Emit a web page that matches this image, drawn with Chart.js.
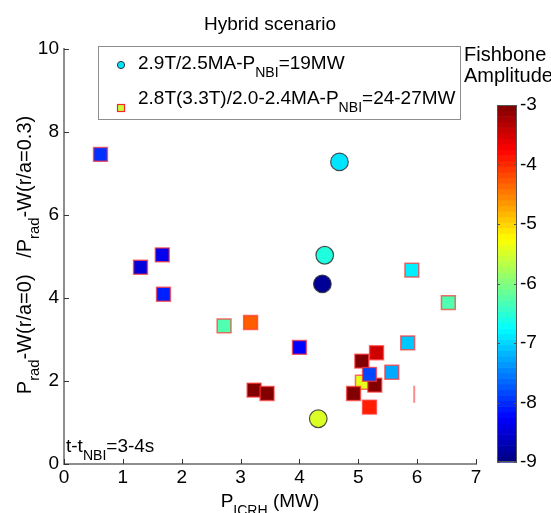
<!DOCTYPE html>
<html>
<head>
<meta charset="utf-8">
<script src="https://cdn.jsdelivr.net/npm/chart.js@4.4.0/dist/chart.umd.min.js"></script>
<style>
  html, body { margin: 0; padding: 0; background: #fff; }
  #wrap { position: relative; width: 551px; height: 513px; overflow: hidden; }
  #main { position: absolute; left: 0; top: 0; }
  #cbar { position: absolute; left: 470px; top: 90px; }
</style>
</head>
<body>
<div id="wrap">
  <canvas id="main" width="551" height="513"></canvas>
  <canvas id="cbar" width="81" height="390"></canvas>
</div>
<script>
const FONT = '"Liberation Sans", Arial, sans-serif';

// 2.9T/2.5MA, P_NBI = 19MW shots (circles)
const circleX   = [4.68, 4.43, 4.39, 4.32];
const circleY   = [7.28, 5.03, 4.34, 1.09];
const circleAmp = [-6.90, -6.57, -8.87, -5.46];

// 2.8T(3.3T)/2.0-2.4MA, P_NBI = 24-27MW shots (squares), in drawing order
const squareX   = [5.07, 0.62, 1.30, 1.67, 1.69, 5.91, 6.53, 2.72, 3.17, 4.00, 5.84,
                   5.31, 5.06, 5.28, 4.92, 5.19, 3.23, 3.45, 5.19, 5.57];
const squareY   = [1.97, 7.46, 4.74, 5.04, 4.09, 4.67, 3.89, 3.33, 3.41, 2.81, 2.92,
                   2.68, 2.48, 1.90, 1.70, 1.37, 1.78, 1.70, 2.16, 2.21];
const squareAmp = [-5.40, -7.96, -8.46, -8.35, -8.07, -6.84, -6.28, -6.28, -4.30, -8.25, -7.08,
                   -3.47, -3.02, -3.02, -3.02, -3.93, -3.02, -3.02, -7.84, -7.25];

// shot with an empty marker (edge only)
const edgeX = [5.95];
const edgeY = [1.68];

// axis and colour-bar ticks
const xTicks  = [0, 1, 2, 3, 4, 5, 6, 7];
const yTicks  = [0, 2, 4, 6, 8, 10];
const cbTicks = [-9, -8, -7, -6, -5, -4, -3];
const AMP_MIN = -9, AMP_MAX = -3;

// MATLAB-style jet colormap
function jet(t) {
  const c = v => Math.max(0, Math.min(1, v));
  const r = c(Math.min(4 * t - 1.5, -4 * t + 4.5));
  const g = c(Math.min(4 * t - 0.5, -4 * t + 3.5));
  const b = c(Math.min(4 * t + 0.5, -4 * t + 2.5));
  return `rgb(${Math.round(r * 255)},${Math.round(g * 255)},${Math.round(b * 255)})`;
}
const ampColor = v => jet((v - AMP_MIN) / (AMP_MAX - AMP_MIN));

// text with subscripts: parts = [[text, isSubscript], ...]
function richWidth(ctx, parts, size) {
  let w = 0;
  for (const [t, sub] of parts) {
    ctx.font = `${sub ? size * 0.74 : size}px ${FONT}`;
    w += ctx.measureText(t).width;
  }
  return w;
}
function richText(ctx, parts, x, y, size, align) {
  const w = richWidth(ctx, parts, size);
  let cx = align === 'center' ? x - w / 2 : x;
  ctx.textAlign = 'left';
  ctx.textBaseline = 'alphabetic';
  ctx.fillStyle = '#000';
  for (const [t, sub] of parts) {
    ctx.font = `${sub ? size * 0.74 : size}px ${FONT}`;
    ctx.fillText(t, cx, sub ? y + size * 0.42 : y);
    cx += ctx.measureText(t).width;
  }
}

const AXIS_GREY = '#8e8e8e';

// inward tick marks, MATLAB style
const innerTicks = {
  id: 'innerTicks',
  beforeDatasetsDraw(chart) {
    const { ctx, scales: { x, y }, chartArea: a } = chart;
    ctx.save();
    ctx.strokeStyle = '#333';
    ctx.lineWidth = 1;
    ctx.beginPath();
    for (const v of xTicks) {
      const px = Math.round(x.getPixelForValue(v)) + 0.5;
      ctx.moveTo(px, a.bottom); ctx.lineTo(px, a.bottom - 5);
    }
    for (const v of yTicks) {
      const py = Math.round(y.getPixelForValue(v)) + 0.5;
      ctx.moveTo(a.left, py); ctx.lineTo(a.left + 5, py);
    }
    ctx.stroke();
    ctx.restore();
  }
};

// title, axis titles, legend box and annotations
const annotations = {
  id: 'annotations',
  afterDraw(chart) {
    const { ctx, chartArea: a } = chart;
    const midX = (a.left + a.right) / 2;
    ctx.save();

    ctx.font = `19px ${FONT}`;
    ctx.fillStyle = '#000';
    ctx.textAlign = 'center';
    ctx.textBaseline = 'alphabetic';
    ctx.fillText('Hybrid scenario', midX, 30);

    richText(ctx, [['P', 0], ['ICRH', 1], [' (MW)', 0]], midX, 507, 19, 'center');

    ctx.save();
    ctx.translate(31, 255);
    ctx.rotate(-Math.PI / 2);
    richText(ctx, [['P', 0], ['rad', 1], ['-W(r/a=0)   /P', 0], ['rad', 1], ['-W(r/a=0.3)', 0]], 0, 0, 20, 'center');
    ctx.restore();

    richText(ctx, [['t-t', 0], ['NBI', 1], ['=3-4s', 0]], a.left + 2, 452, 19, 'left');

    // legend
    ctx.fillStyle = '#fff';
    ctx.fillRect(98, 46, 362, 73);
    ctx.strokeStyle = AXIS_GREY;
    ctx.lineWidth = 1;
    ctx.strokeRect(98.5, 46.5, 362, 73);

    ctx.beginPath();
    ctx.arc(121, 65, 3.6, 0, Math.PI * 2);
    ctx.fillStyle = ampColor(-6.9);
    ctx.fill();
    ctx.strokeStyle = '#333';
    ctx.stroke();

    ctx.fillStyle = ampColor(-5.6);
    ctx.fillRect(117.5, 104.5, 7, 7);
    ctx.strokeStyle = '#f22';
    ctx.lineWidth = 1.2;
    ctx.strokeRect(117.5, 104.5, 7, 7);

    richText(ctx, [['2.9T/2.5MA-P', 0], ['NBI', 1], ['=19MW', 0]], 138, 69, 19, 'left');
    richText(ctx, [['2.8T(3.3T)/2.0-2.4MA-P', 0], ['NBI', 1], ['=24-27MW', 0]], 138, 104, 19, 'left');

    // colour-bar caption
    ctx.font = `20px ${FONT}`;
    ctx.fillStyle = '#000';
    ctx.textAlign = 'left';
    ctx.fillText('Fishbone', 464, 61);
    ctx.fillText('Amplitude', 464, 82);
    ctx.restore();
  }
};

const tickFont = { family: FONT, size: 19 };

new Chart(document.getElementById('main'), {
  type: 'scatter',
  data: {
    datasets: [
      {
        label: '2.8T(3.3T)/2.0-2.4MA',
        data: squareX.map((x, i) => ({ x, y: squareY[i] })),
        pointStyle: 'rect',
        pointRadius: 9.8,
        pointBackgroundColor: squareAmp.map(ampColor),
        pointBorderColor: 'rgba(255,50,50,0.7)',
        pointBorderWidth: 1.5,
        order: 2
      },
      {
        label: '2.8T edge',
        data: edgeX.map((x, i) => ({ x, y: edgeY[i] })),
        pointStyle: 'line',
        rotation: 90,
        pointRadius: 8.5,
        pointBorderColor: 'rgba(255,120,120,0.85)',
        pointBorderWidth: 2,
        order: 3
      },
      {
        label: '2.9T/2.5MA',
        data: circleX.map((x, i) => ({ x, y: circleY[i] })),
        pointStyle: 'circle',
        pointRadius: 8.8,
        pointBackgroundColor: circleAmp.map(ampColor),
        pointBorderColor: 'rgba(50,50,50,0.85)',
        pointBorderWidth: 1.2,
        order: 1
      }
    ]
  },
  options: {
    responsive: false,
    animation: false,
    events: [],
    layout: { padding: { left: 24, right: 75, top: 49, bottom: 19 } },
    plugins: { legend: { display: false }, tooltip: { enabled: false }, title: { display: false } },
    scales: {
      x: {
        type: 'linear', min: 0, max: 7,
        afterBuildTicks: s => { s.ticks = xTicks.map(v => ({ value: v })); },
        afterFit: s => { s.height = 30; },
        ticks: { font: tickFont, color: '#000', padding: 2, maxRotation: 0 },
        grid: { display: false, drawTicks: false },
        border: { display: true, color: AXIS_GREY, width: 2 }
      },
      y: {
        type: 'linear', min: 0, max: 10,
        afterBuildTicks: s => { s.ticks = yTicks.map(v => ({ value: v })); },
        afterFit: s => { s.width = 40; },
        ticks: { font: tickFont, color: '#000', padding: 5 },
        grid: { display: false, drawTicks: false },
        border: { display: true, color: AXIS_GREY, width: 2 }
      }
    }
  },
  plugins: [innerTicks, annotations]
});

// colour bar: 64 jet bands along its own amplitude scale
const colourBar = {
  id: 'colourBar',
  beforeDraw(chart) {
    const { ctx, chartArea: a, scales: { y } } = chart;
    const n = 64;
    ctx.save();
    for (let i = 0; i < n; i++) {
      const v0 = AMP_MIN + (AMP_MAX - AMP_MIN) * i / n;
      const v1 = AMP_MIN + (AMP_MAX - AMP_MIN) * (i + 1) / n;
      const y0 = y.getPixelForValue(v0), y1 = y.getPixelForValue(v1);
      ctx.fillStyle = jet((i + 0.5) / n);
      ctx.fillRect(a.left, y1, a.right - a.left, y0 - y1 + 0.6);
    }
    ctx.strokeStyle = '#555';
    ctx.lineWidth = 1;
    ctx.strokeRect(a.left + 0.5, a.top + 0.5, a.right - a.left - 1, a.bottom - a.top - 1);
    ctx.beginPath();
    for (const v of cbTicks) {
      const py = Math.round(y.getPixelForValue(v)) + 0.5;
      ctx.moveTo(a.left, py); ctx.lineTo(a.left + 3, py);
      ctx.moveTo(a.right, py); ctx.lineTo(a.right - 3, py);
    }
    ctx.stroke();
    ctx.restore();
  }
};

new Chart(document.getElementById('cbar'), {
  type: 'scatter',
  data: { datasets: [] },
  options: {
    responsive: false,
    animation: false,
    events: [],
    layout: { padding: { left: 27, top: 15, bottom: 18, right: 0 } },
    plugins: { legend: { display: false }, tooltip: { enabled: false } },
    scales: {
      x: { display: false, min: 0, max: 1 },
      y: {
        type: 'linear', position: 'right', min: AMP_MIN, max: AMP_MAX,
        afterBuildTicks: s => { s.ticks = cbTicks.map(v => ({ value: v })); },
        afterFit: s => { s.width = 34; },
        ticks: { font: tickFont, color: '#000', padding: 3 },
        grid: { display: false, drawTicks: false },
        border: { display: false }
      }
    }
  },
  plugins: [colourBar]
});
</script>
</body>
</html>
